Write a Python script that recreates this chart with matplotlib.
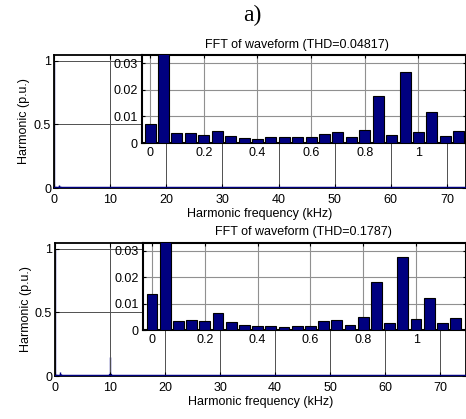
import numpy as np
import matplotlib
matplotlib.use('Agg')
import matplotlib.pyplot as plt

plt.rcParams['font.family'] = ['Liberation Sans', 'DejaVu Sans']

# harmonic orders 0..23 of 50 Hz, shown in kHz
freq_khz = np.arange(24) * 0.05

# top panel (THD=0.04817), p.u. of fundamental
mag_a = [0.0070, 1.0, 0.0038, 0.0038, 0.0031, 0.0045, 0.0028, 0.0018,
         0.0014, 0.0021, 0.0021, 0.0021, 0.0021, 0.0035, 0.0041, 0.0021,
         0.0049, 0.0176, 0.0031, 0.0265, 0.0041, 0.0116, 0.0025, 0.0045]
# bottom panel (THD=0.1787)
mag_b = [0.0138, 1.0, 0.0035, 0.0037, 0.0035, 0.0065, 0.0029, 0.0019,
         0.0015, 0.0015, 0.0012, 0.0015, 0.0015, 0.0033, 0.0037, 0.0019,
         0.0051, 0.0182, 0.0026, 0.0277, 0.0041, 0.0121, 0.0026, 0.0045]

# high frequency components seen in the full-range view
hf_freq_a = [20.0]
hf_mag_a = [0.004]
hf_freq_b = [9.9, 10.0, 10.1, 30.0]
hf_mag_b = [0.012, 0.15, 0.012, 0.004]

titles = ['FFT of waveform (THD=0.04817)', 'FFT of waveform (THD=0.1787)']
main_xticks = [0, 10, 20, 30, 40, 50, 60, 70]
inset_xticks = [0, 0.2, 0.4, 0.6, 0.8, 1]
inset_yticks = [0, 0.01, 0.02, 0.03]

navy = '#000080'
fs = 9
W, H = 466, 419
fig = plt.figure(figsize=(W / 100, H / 100), dpi=100)

fig.text(252 / W, 1 - 15 / H, 'a)', family='Liberation Serif', fontsize=17,
         ha='center', va='center')

panels = [
    # main rect, inset rect, main xlim, inset xlim, title pos
    dict(main=[54 / W, 1 - 188 / H, 1 - 54 / W, 133 / H],
         inset=[142 / W, 1 - 143 / H, 1 - 142 / W, 88 / H],
         xlim=(0, 73.4), ixlim=(-0.03, 1.177), tpos=(297 / W, 1 - 45 / H),
         mag=mag_a, hf=hf_freq_a, hfm=hf_mag_a, title=titles[0]),
    dict(main=[55 / W, 1 - 376 / H, 1 - 55 / W, 133 / H],
         inset=[143 / W, 1 - 330 / H, 1 - 143 / W, 87 / H],
         xlim=(0, 74.7), ixlim=(-0.034, 1.189), tpos=(303 / W, 1 - 232 / H),
         mag=mag_b, hf=hf_freq_b, hfm=hf_mag_b, title=titles[1]),
]

for p in panels:
    ax = fig.add_axes(p['main'])
    ax.bar(freq_khz, p['mag'], width=0.05, color=navy, edgecolor=navy, lw=1)
    ax.bar(p['hf'], p['hfm'], width=0.05, color=navy, edgecolor=navy, lw=1)
    ax.axhline(0, color=navy, lw=2.5, zorder=3)
    ax.set_xlim(*p['xlim'])
    ax.set_ylim(0, 1.047)
    ax.set_xticks(main_xticks)
    ax.set_yticks([0, 0.5, 1])
    ax.set_yticklabels(['0', '0.5', '1'])
    ax.grid(True, color='#505050', lw=0.7)
    ax.tick_params(direction='in', length=3, labelsize=fs, top=True, right=True)
    ax.tick_params(axis='x', pad=4)
    ax.tick_params(axis='y', pad=2)
    ax.set_xlabel('Harmonic frequency (kHz)', fontsize=fs, labelpad=2)
    ax.set_ylabel('Harmonic (p.u.)', fontsize=fs, labelpad=2.5)
    for s in ax.spines.values():
        s.set_linewidth(1.3)

    ins = fig.add_axes(p['inset'])
    ins.bar(freq_khz, p['mag'], width=0.041, color=navy, edgecolor='black',
            lw=0.8, zorder=3)
    ins.set_xlim(*p['ixlim'])
    ins.set_ylim(0, 0.033)
    ins.set_xticks(inset_xticks)
    ins.set_xticklabels(['0', '0.2', '0.4', '0.6', '0.8', '1'])
    ins.set_yticks(inset_yticks)
    ins.set_yticklabels(['0', '0.01', '0.02', '0.03'])
    ins.grid(True, color='#909090', lw=0.8)
    ins.tick_params(direction='in', length=2.5, labelsize=fs, pad=3,
                    top=True, right=True)
    for s in ins.spines.values():
        s.set_linewidth(1.5)

    fig.text(p['tpos'][0], p['tpos'][1], p['title'], fontsize=fs,
             ha='center', va='center')

fig.savefig('out.png', dpi=100)
